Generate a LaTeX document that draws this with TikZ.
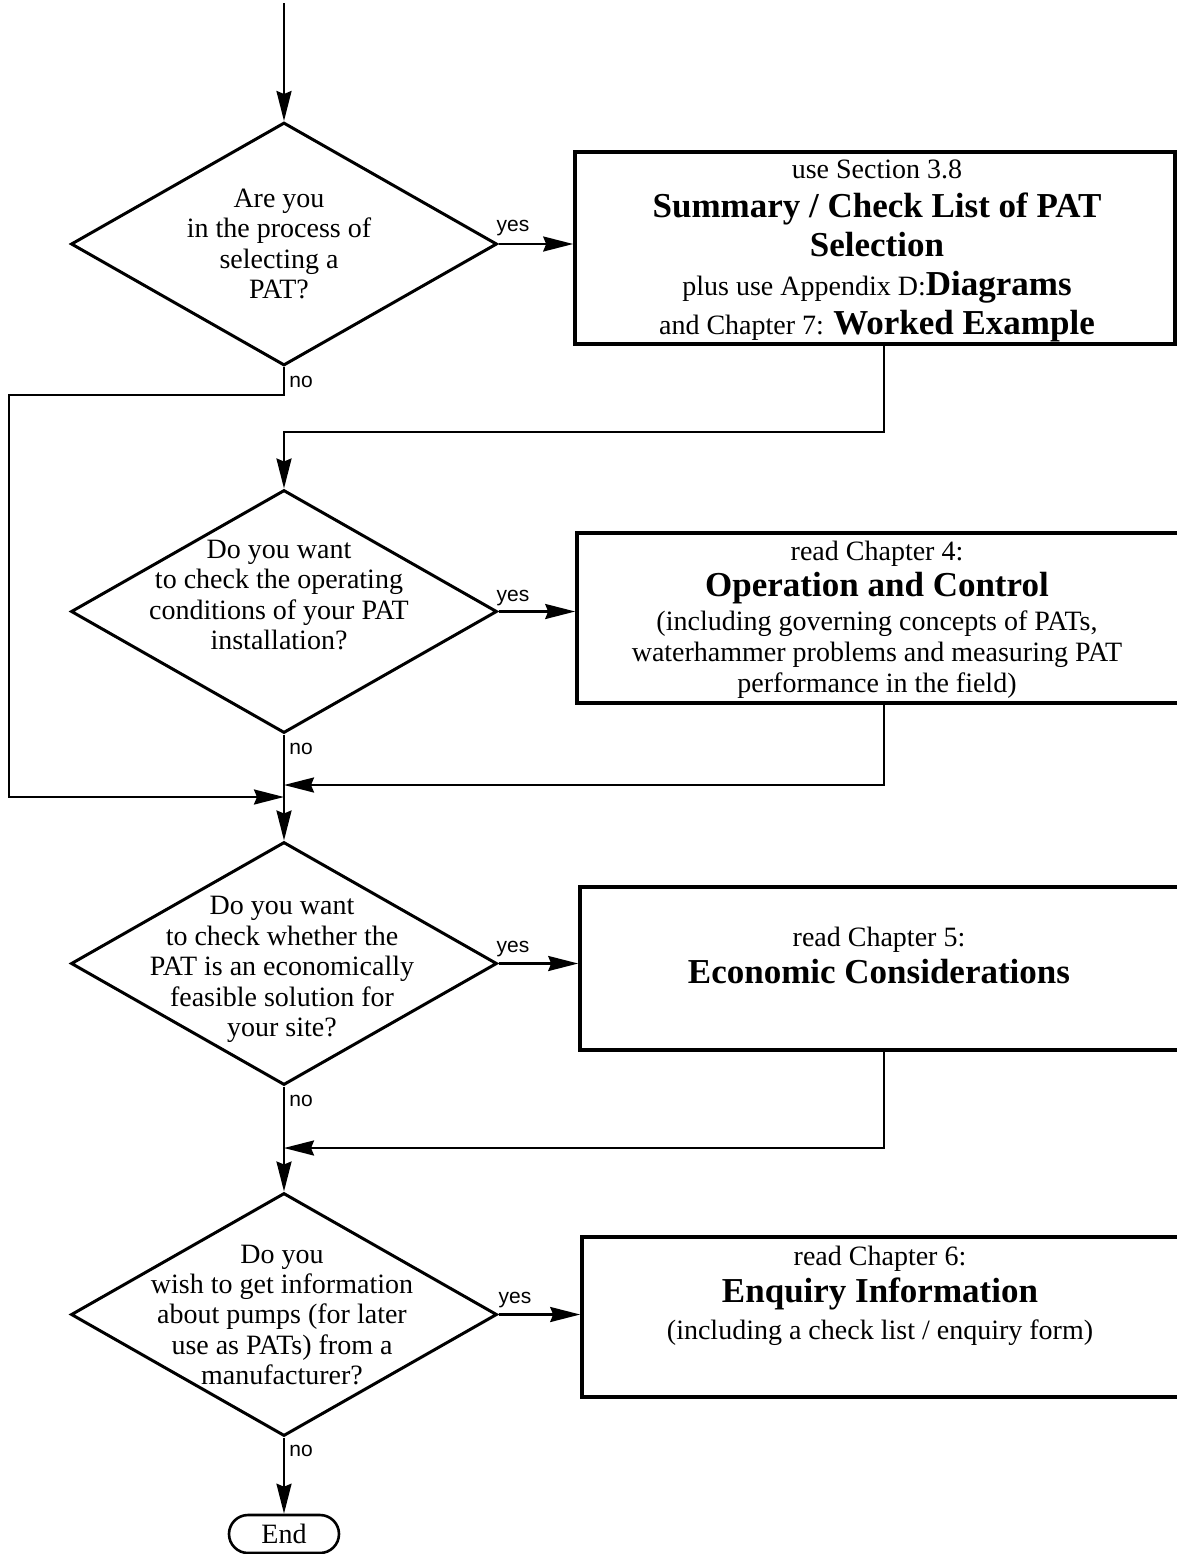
\documentclass[tikz,border=0pt]{standalone}
\usepackage{fontspec}
\setmainfont{Liberation Serif}
\setsansfont{Liberation Sans}
\usetikzlibrary{shapes.geometric,shapes.misc,arrows.meta}
\begin{document}
\begin{tikzpicture}[x=0.5pt,y=-0.5pt,
  dia/.style={draw,shape=diamond,minimum width=213pt,minimum height=121.5pt,inner sep=0pt,line width=1.5pt},
  boxnode/.style={draw,rectangle,inner sep=0pt,line width=1.8pt},
  dtext/.style={align=center,inner sep=0pt,font=\fontsize{14}{15.2}\selectfont},
  btext/.style={align=center,inner sep=0pt},
  arr/.style={line width=1.2pt,-{Stealth[length=15pt,width=7.5pt,inset=1.5pt]}},
  yeslab/.style={font=\sffamily\fontsize{10.5}{12}\selectfont,inner sep=0pt,anchor=base},
  nolab/.style={font=\sffamily\fontsize{10.5}{12}\selectfont,inner sep=0pt,anchor=base west},
  endnode/.style={draw,shape=rounded rectangle,line width=1.3pt,minimum width=55pt,minimum height=19pt,inner sep=0pt,font=\fontsize{14}{16}\selectfont}
]
\useasboundingbox (0,0) rectangle (1177,1554);

% diamonds
\node[dia] (d1) at (284,244) {};
\node[dia] (d2) at (284,611.5) {};
\node[dia] (d3) at (284,963.5) {};
\node[dia] (d4) at (284,1314.5) {};

\node[dtext] (d1t) at (279,244) {Are you\\in the process of\\selecting a\\PAT?};
\node[dtext] (d2t) at (279,595) {Do you want\\to check the operating\\conditions of your PAT\\installation?};
\node[dtext] (d3t) at (282,969.5) {Do you want\\to check whether the\\PAT is an economically\\feasible solution for\\your site?};
\node[dtext] (d4t) at (282,1315) {Do you\\wish to get information\\about pumps (for later\\use as PATs) from a\\manufacturer?};

% boxes
\node[boxnode,minimum width=300pt,minimum height=96pt] (b1) at (875,248) {};
\node[boxnode,minimum width=301.5pt,minimum height=85pt] (b2) at (878.5,618) {};
\node[boxnode,minimum width=300pt,minimum height=81.5pt] (b3) at (880,968.5) {};
\node[boxnode,minimum width=299pt,minimum height=80pt] (b4) at (881,1317) {};

\node[btext,font=\fontsize{14}{19.5}\selectfont] (b1t) at (877,251)
  {use Section 3.8\\
   {\bfseries\fontsize{17.5}{19.5}\selectfont Summary / Check List of PAT}\\
   {\bfseries\fontsize{17.5}{19.5}\selectfont Selection}\\
   plus use Appendix D:{\bfseries\fontsize{17.5}{19.5}\selectfont Diagrams}\\
   and Chapter 7: {\bfseries\fontsize{17.5}{19.5}\selectfont Worked Example}};
\node[btext,font=\fontsize{14}{15.5}\selectfont] (b2t) at (877,619.5)
  {read Chapter 4:\\[2.5pt]
   {\bfseries\fontsize{17.5}{15.5}\selectfont Operation and Control}\\[1.5pt]
   (including governing concepts of PATs,\\
   waterhammer problems and measuring PAT\\
   performance in the field)};
\node[btext,font=\fontsize{14}{18.5}\selectfont] (b3t) at (879,955)
  {read Chapter 5:\\
   {\bfseries\fontsize{17.5}{18.5}\selectfont Economic Considerations}};
\node[btext,font=\fontsize{14}{18.5}\selectfont] (b4t) at (880,1295.5)
  {read Chapter 6:\\
   {\bfseries\fontsize{17.5}{18.5}\selectfont Enquiry Information}\\
   (including a check list / enquiry form)};

% end
\node[endnode] (end) at (284,1534) {End};

% coordinates
\coordinate (start) at (284,3);
\coordinate (n1) at (9,395);
\coordinate (m1) at (284,797);
\coordinate (j1) at (884,432);
\coordinate (j2) at (884,785);
\coordinate (j3) at (884,1148);

% connectors
\draw[arr] (start) -- (d1.north);
\draw[arr] (d1.east) -- (d1.east -| b1.west);
\draw[arr] (d2.east) -- (d2.east -| b2.west);
\draw[arr] (d3.east) -- (d3.east -| b3.west);
\draw[arr] (d4.east) -- (d4.east -| b4.west);

\draw[arr] (d1.south) |- (n1) |- (m1);
\draw[arr] (b1.south -| j1) -- (j1) -| (d2.north);
\draw[arr] (d2.south) -- (d3.north);
\draw[arr] (b2.south -| j2) -- (j2) -- (d3.north |- j2);
\draw[arr] (d3.south) -- (d4.north);
\draw[arr] (b3.south -| j3) -- (j3) -- (d4.north |- j3);
\draw[arr] (d4.south) -- (end.north);

% labels
\node[yeslab] (y1) at (513,231) {yes};
\node[yeslab] (y2) at (513,601) {yes};
\node[yeslab] (y3) at (513,952) {yes};
\node[yeslab] (y4) at (515,1303) {yes};
\node[nolab] (no1) at (289,387) {no};
\node[nolab] (no2) at (289,754) {no};
\node[nolab] (no3) at (289,1106) {no};
\node[nolab] (no4) at (289,1456) {no};
\end{tikzpicture}
\end{document}
